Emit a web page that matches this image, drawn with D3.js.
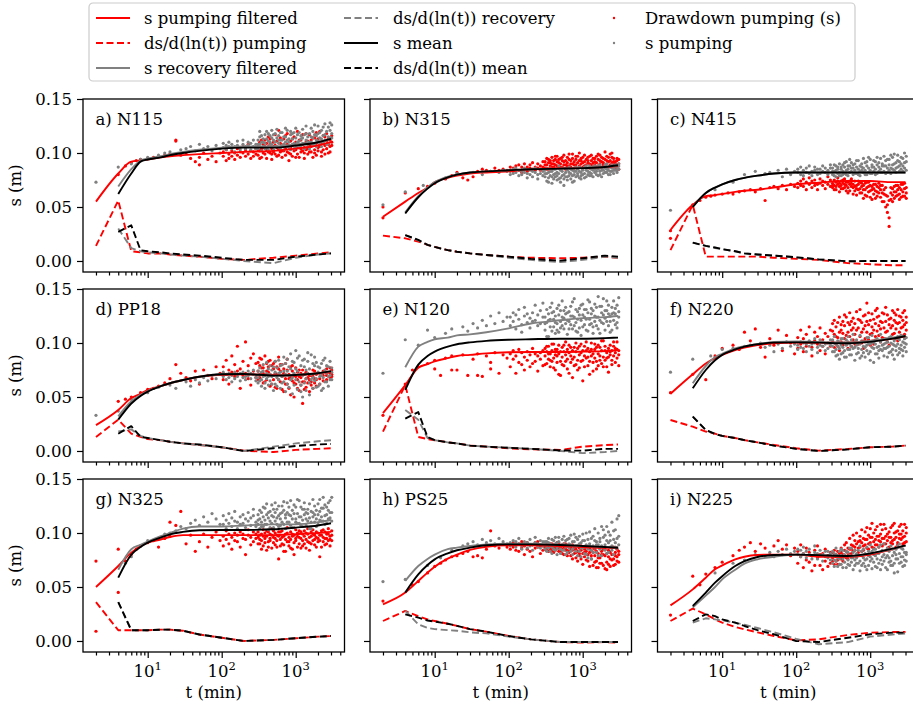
<!DOCTYPE html>
<html><head><meta charset="utf-8">
<script src="https://cdn.jsdelivr.net/npm/d3@7"></script>
<style>body{margin:0;background:#fff}svg{display:block}</style>
</head><body><svg id="c" width="913" height="707"></svg>
<script>
const N = null;
// times (min) of the filtered / derivative lines
const tLine = [2,4,6,8,10,15,20,30,50,100,200,500,1000,2000,3000];
// times (min) of the scatter samples (an entry may hold several readings)
const tPts = [2,3,4,5,6,7,8,10,12,14,17,20,24,28,33,38,44,50,57,65,74,84,95,
 105,115,125,137,150,163,178,194,210,228,247,268,290,
 310,327,345,364,384,405,427,450,475,501,528,557,588,620,654,690,728,768,810,854,901,950,1002,1057,1115,1176,1240,1308,1380,1456,1535,1619,1708,1801,1900,2004,2114,2230,2352,2481,2617,2760,2911,3070];
const panelNames = ["a) N115","b) N315","c) N415","d) PP18","e) N120","f) N220","g) N325","h) PS25","i) N225"];
const yTicks = [0, 0.05, 0.10, 0.15];
const xMajor = [10, 100, 1000];
const xMinor = [2,3,4,5,6,7,8,9,20,30,40,50,60,70,80,90,200,300,400,500,600,700,800,900,2000,3000,4000];
const legendLabels = ["s pumping filtered","ds/d(ln(t)) pumping","s recovery filtered","ds/d(ln(t)) recovery","s mean","ds/d(ln(t)) mean","Drawdown pumping (s)","s pumping"];

// ---- a) N115
const sPumpA=[.055,.081,.092,.093,.094,.096,.097,.098,.099,.100,.101,.102,.104,.107,.110];
const dPumpA=[.014,.056,.009,.008,.007,.007,.006,.005,.004,.002,.001,.003,.005,.007,.008];
const sRecA=[N,.069,.085,.093,.095,.097,.099,.101,.103,.105,.106,.106,.108,.110,.113];
const dRecA=[N,.030,.012,.009,.008,.007,.006,.005,.004,.002,.000,-.002,.003,.006,.007];
const sMeanA=[N,.062,.081,.092,.094,.096,.098,.100,.102,.104,.105,.105,.107,.110,.113];
const dMeanA=[N,.027,.033,.010,.009,.008,.007,.006,.005,.003,.001,.001,.004,.006,.007];
const ptsPumpA=[N,N,.080,.088,.091,.093,.094,.095,.096,.097,.098,.099,[.112,.111],.098,.100,.095,.092,[.089,.096],.100,.094,.097,.092,.100,
[.097,.101],[.093,.103],[.099,.095],[.102,.097],[.094,.100],[.104,.098],[.096,.101],[.100,.106],[.097,.103],[.108,.099],[.095,.102],[.101,.097],[.104,.099],
[.098,.106,.103],[.102,.110,.095],[.096,.104,.112],[.108,.100,.105],[.112,.099,.106],[.103,.095,.109],[.106,.115,.101],[.100,.108,.113],[.094,.104,.099],[.110,.101,.106],
[.099,.117,.107],[.105,.097,.111],[.121,.103,.098],[.101,.109,.114],[.096,.106,.102],[.113,.102,.108],[.104,.098,.116],[.108,.118,.101],[.100,.093,.106],[.111,.105,.099],
[.097,.107,.113],[.115,.102,.108],[.103,.110,.096],[.099,.120,.106],[.106,.096,.112],[.112,.101,.104],[.102,.108,.117],[.095,.105,.100],[.110,.118,.103],[.104,.099,.111],
[.117,.107,.101],[.101,.112,.106],[.108,.096,.114],[.103,.114,.100],[.098,.109,.119],[.113,.105,.102],[.106,.120,.110],[.101,.110,.097],[.109,.103,.116],[.115,.099,.107],
[.104,.111,.118],[.100,.108,.113],[.112,.106,.101],[.107,.116,.110]];
const ptsRecA=[.073,N,.087,N,.090,N,.094,.096,N,.098,.100,.101,N,.103,.104,.106,.102,.108,.104,.106,.102,.107,.104,
[.105,.109],[.103,.107],[.106,.110],[.104,.108],[.101,.106],[.107,.111],[.105,.103],[.108,.112],[.104,.106],[.110,.107],[.103,.109],[.106,.112],[.108,.104],
[.104,.112,.108],[.108,.115,.120],[.102,.110,.116],[.113,.106,.110],[.109,.117,.104],[.105,.120,.113],[.111,.103,.118],[.107,.116,.110],[.114,.108,.121],[.103,.112,.117],
[.110,.118,.106],[.106,.114,.122],[.116,.109,.112],[.104,.112,.119],[.112,.119,.107],[.108,.103,.115],[.115,.110,.123],[.106,.121,.112],[.110,.113,.105],[.103,.117,.120],
[.113,.108,.118],[.109,.119,.104],[.105,.114,.123],[.117,.110,.107],[.111,.106,.119],[.107,.116,.113],[.114,.122,.109],[.109,.104,.117],[.112,.118,.125],[.106,.115,.110],
[.118,.110,.104],[.110,.123,.115],[.114,.107,.120],[.108,.117,.126],[.116,.112,.106],[.111,.125,.118],[.119,.108,.114],[.113,.121,.106],[.110,.116,.124],[.117,.127,.112],
[.112,.120,.108],[.115,.109,.124],[.121,.128,.114],[.114,.118,.126]];

// ---- b) N315
const sPumpB=[.041,.055,.063,.068,.073,.077,.079,.081,.082,.083,.085,.086,.086,.087,.088];
const dPumpB=[.0235,.021,.018,.015,.013,.010,.0086,.007,.0056,.004,.003,.0025,.003,.004,.003];
const sRecB=[N,.045,.060,.068,.073,.078,.080,.082,.083,.084,.085,.0855,.086,.087,.0886];
const dRecB=[N,.024,.019,.015,.013,.010,.0086,.007,.0055,.003,.001,-.001,.001,.004,.003];
const sMeanB=[N,.044,.059,.067,.072,.0775,.080,.082,.083,.084,.085,.0855,.086,.087,.0886];
const dMeanB=[N,.024,.0195,.015,.013,.010,.0086,.007,.0056,.004,.002,.0003,.0025,.005,.004];
const ptsPumpB=[[.050,.040],N,.063,N,.067,N,.069,.072,N,.076,.079,.082,.077,.075,.078,.083,.085,.084,.083,.086,.084,.085,.084,
[.084,.087],[.086,.083],[.088,.085],[.084,.089],[.087,.082],[.085,.090],[.083,.087],[.089,.086],[.085,.091],[.087,.084],[.090,.086],[.084,.088],[.092,.087],
[.086,.092,.089],[.089,.095,.085],[.085,.091,.094],[.093,.088,.091],[.090,.096,.087],[.087,.093,.090],[.094,.089,.097],[.088,.097,.092],[.091,.086,.094],[.095,.090,.087],
[.087,.093,.096],[.092,.098,.089],[.089,.085,.093],[.096,.091,.088],[.088,.094,.099],[.093,.087,.090],[.090,.099,.095],[.086,.092,.089],[.094,.089,.097],[.091,.097,.086],
[.088,.093,.100],[.095,.090,.093],[.087,.096,.091],[.092,.088,.098],[.089,.094,.086],[.096,.091,.093],[.090,.086,.097],[.093,.098,.089],[.087,.091,.095],[.095,.089,.092],
[.091,.097,.087],[.088,.094,.099],[.098,.090,.093],[.092,.087,.096],[.089,.095,.091],[.094,.101,.088],[.090,.093,.097],[.087,.096,.092],[.093,.089,.099],[.096,.100,.091],
[.089,.092,.095],[.092,.086,.090],[.088,.095,.093],[.085,.090,.094]];
const ptsRecB=[.052,N,.064,N,N,.070,N,N,N,.077,N,.081,N,N,.082,N,.080,N,.083,N,.082,.084,.083,
[.083,.080],[.085,.081],[.082,.086],[.079,.084],[.083,.080],[.086,.082],[.081,.077],[.084,.080],[.078,.083],[.082,.086],[.080,.076],[.085,.081],[.079,.083],
[.078,.084,.081],[.074,.081,.086],[.082,.077,.073],[.079,.086,.083],[.072,.083,.078],[.080,.076,.085],[.085,.078,.081],[.075,.082,.079],[.081,.088,.076],[.077,.073,.084],
[.083,.079,.086],[.070,.080,.076],[.086,.082,.078],[.078,.075,.084],[.082,.087,.079],[.076,.081,.085],[.084,.079,.073],[.080,.074,.083],[.087,.083,.078],[.079,.085,.081],
[.083,.077,.087],[.076,.082,.079],[.085,.080,.084],[.081,.087,.077],[.078,.084,.088],[.086,.080,.083],[.082,.088,.079],[.079,.085,.081],[.084,.078,.087],[.088,.082,.085],
[.080,.086,.083],[.085,.079,.088],[.083,.089,.080],[.078,.084,.086],[.087,.081,.084],[.082,.086,.089],[.085,.090,.082],[.080,.084,.087],[.087,.083,.080],[.083,.089,.086],
[.086,.081,.084],[.089,.084,.087],[.084,.087,.082],[.088,.085,.090]];

// ---- c) N415
const sPumpC=[.0287,.052,.060,.061,.062,.064,.065,.066,.068,.071,.0725,.074,.074,.073,.073];
const dPumpC=[.010,.052,.004,.004,.004,.004,.004,.004,.003,.002,.001,-.002,-.003,-.004,-.004];
const sRecC=[N,.050,.063,.068,.071,.075,.077,.079,.081,.082,.082,.082,.082,.082,.082];
const dRecC=[N,.017,.014,.012,.011,.009,.007,.006,.005,.0034,.0015,-.0003,0,0,0];
const sMeanC=[N,.050,.063,.068,.071,.075,.077,.079,.081,.082,.082,.082,.082,.082,.082];
const dMeanC=[N,.017,.014,.0125,.011,.009,.007,.006,.005,.0034,.0015,-.0003,0,0,0];
const ptsPumpC=[[.028,.021],N,.052,.056,.059,.060,.061,.062,.063,.062,.064,.065,.066,.064,.067,.056,.068,.069,.067,.070,.066,.071,.069,
[.072,.068],[.074,.070],[.069,.076],[.073,.066],[.077,.071],[.068,.074],[.075,.070],[.071,.066],[.076,.072],[.070,.074],[.073,.067],[.078,.071],[.069,.075],
[.072,.068,.070],[.075,.070,.066],[.066,.073,.069],[.071,.077,.074],[.069,.064,.072],[.074,.070,.067],[.067,.072,.075],[.076,.071,.068],[.070,.065,.073],[.073,.068,.063],
[.065,.071,.074],[.072,.076,.069],[.068,.062,.071],[.074,.069,.065],[.061,.070,.067],[.071,.066,.074],[.067,.073,.063],[.063,.069,.072],[.070,.058,.066],[.066,.072,.061],
[.060,.068,.073],[.073,.064,.069],[.065,.070,.059],[.069,.057,.066],[.062,.067,.071],[.071,.065,.058],[.064,.060,.069],[.068,.072,.063],[.059,.066,.070],[.070,.063,.055],
[.066,.055,.062],[.061,.068,.050],[.052,.045,.060],[.040,.032,.056],[.063,.057,.068],[.067,.061,.055],[.058,.069,.064],[.064,.060,.070],[.070,.066,.061],[.062,.068,.057],
[.066,.059,.071],[.071,.064,.060],[.060,.067,.072],[.068,.063,.058]];
const ptsRecC=[.047,N,N,N,N,N,.066,N,N,.073,N,.080,N,.083,N,.081,.082,N,.084,.078,.085,.080,.083,
[.082,.085],[.080,.087],[.084,.079],[.086,.082],[.081,.088],[.083,.079],[.087,.084],[.080,.085],[.085,.081],[.088,.083],[.082,.086],[.084,.080],[.086,.089],
[.080,.086,.083],[.083,.089,.079],[.078,.084,.088],[.087,.081,.085],[.082,.090,.079],[.085,.079,.087],[.089,.083,.080],[.081,.087,.091],[.084,.092,.080],[.079,.085,.088],
[.088,.082,.094],[.083,.091,.086],[.086,.080,.089],[.090,.084,.081],[.081,.087,.093],[.085,.093,.080],[.079,.083,.088],[.087,.090,.084],[.082,.086,.095],[.091,.084,.080],
[.080,.088,.092],[.086,.082,.096],[.084,.094,.081],[.089,.081,.087],[.083,.087,.093],[.092,.085,.080],[.081,.089,.096],[.087,.083,.091],[.085,.095,.082],[.090,.082,.088],
[.083,.088,.097],[.088,.093,.081],[.082,.086,.094],[.094,.089,.084],[.086,.081,.098],[.089,.096,.085],[.084,.090,.099],[.091,.086,.082],[.087,.098,.093],[.083,.092,.088],
[.090,.085,.096],[.095,.088,.083],[.086,.100,.091],[.092,.084,.097]];

// ---- d) PP18
const sPumpD=[.024,.038,.049,.053,.0565,.060,.0627,.0657,.0688,.0704,.071,.0704,.070,.072,.073];
const dPumpD=[.013,.029,.016,.013,.011,.010,.0086,.007,.0056,.0034,.0003,-.001,.001,.002,.0025];
const sRecD=[N,.032,.046,.052,.0555,.060,.0627,.0657,.0688,.071,.0713,.0698,.0704,.072,.074];
const dRecD=[N,.018,.020,.014,.012,.010,.0086,.007,.0056,.0035,.000,.004,.007,.009,.010];
const sMeanD=[N,.029,.044,.051,.055,.060,.0627,.0657,.0688,.071,.0713,.0698,.0704,.072,.074];
const dMeanD=[N,.016,.023,.013,.012,.010,.0086,.007,.006,.0035,.000,.0025,.0046,.006,.0065];
const ptsPumpD=[N,N,.046,.048,.050,N,.054,.057,.058,.060,.063,.067,.080,.072,.068,.065,.074,.062,.075,.070,.067,.078,.072,
[.078,.066],[.084,.071],[.062,.075],[.088,.073],[.069,.080],[.097,.074],[.076,.058],[.083,.070],[.101,.072],[.067,.079],[.086,.061],[.074,.090],[.081,.068],
[.074,.082,.066],[.068,.079,.086],[.085,.071,.077],[.077,.063,.072],[.070,.088,.064],[.081,.066,.074],[.073,.078,.083],[.060,.084,.071],[.079,.070,.062],[.066,.076,.081],
[.083,.072,.059],[.071,.058,.078],[.076,.087,.066],[.064,.074,.080],[.080,.069,.057],[.072,.055,.076],[.067,.081,.062],[.075,.062,.085],[.058,.071,.067],[.078,.068,.052],
[.065,.074,.079],[.070,.050,.063],[.062,.077,.069],[.073,.066,.058],[.056,.069,.075],[.068,.061,.072],[.075,.044,.064],[.064,.071,.057],[.059,.067,.073],[.072,.063,.068],
[.066,.055,.070],[.061,.070,.064],[.069,.058,.075],[.063,.074,.067],[.071,.060,.066],N,[.067,.072,.062],N,[.074,.065,.070],N,
[.070,.076,.066],N,[.072,.068,.077],[.075,.071,.069]];
const ptsRecD=[.033,N,.037,N,.048,N,N,.054,N,.059,N,.061,.058,N,.064,.060,.066,.063,.068,.065,.070,.067,.071,
[.069,.073],[.066,.071],[.072,.068],[.070,.064],[.067,.073],[.071,.069],[.065,.072],[.073,.068],[.069,.066],[.074,.070],[.067,.072],[.071,.075],[.068,.065],
[.068,.074,.063],[.071,.065,.077],[.066,.073,.060],[.074,.069,.080],[.063,.070,.058],[.072,.067,.082],[.069,.076,.061],[.065,.071,.079],[.075,.062,.069],[.070,.078,.056],
[.062,.073,.083],[.077,.068,.060],[.066,.084,.072],[.073,.058,.079],[.080,.069,.063],[.064,.087,.074],[.071,.055,.081],[.085,.074,.062],[.059,.078,.070],[.076,.090,.066],
[.053,.068,.083],[.082,.072,.061],[.066,.093,.076],[.074,.057,.086],[.088,.064,.071],[.061,.079,.055],[.070,.050,.084],[.078,.085,.063],[.056,.067,.075],[.083,.072,.091],
[.063,.076,.052],[.071,.089,.066],[.058,.068,.081],[.079,.065,.087],[.067,.082,.059],[.073,.060,.078],[.062,.077,.069],[.081,.070,.056],[.068,.058,.084],[.075,.086,.064],
[.064,.072,.079],[.078,.069,.060],[.070,.083,.066],[.073,.066,.077]];

// ---- e) N120
const sPumpE=[.035,.061,.077,.0805,.083,.086,.088,.089,.0904,.0914,.0917,.0917,.092,.0925,.0935];
const dPumpE=[.018,.061,.013,.011,.010,.008,.007,.005,.004,.0025,.0015,.001,.004,.0055,.006];
const sRecE=[N,.0775,.0966,.101,.1034,.105,.107,.108,.110,.1136,.118,.121,.123,.124,.125];
const dRecE=[N,.038,.029,.012,.010,.008,.007,.005,.004,.003,.002,.000,-.002,-.001,.000];
const sMeanE=[N,.0565,.080,.088,.092,.0966,.0988,.1006,.102,.103,.1035,.104,.104,.1045,.105];
const dMeanE=[N,.030,.036,.013,.010,.008,.007,.005,.004,.003,.002,.0005,.0003,.002,.002];
const ptsPumpE=[.033,N,.062,.075,.078,N,.081,[.084,.076],.070,.086,[.088,.075],.075,.089,.070,.085,[.090,.070],.069,.088,[.082,.076],.091,.072,.089,.086,
[.090,.078],[.085,.093],[.072,.088],[.094,.082],[.080,.091],[.087,.075],[.092,.084],[.078,.089],[.095,.081],[.083,.090],[.088,.074],[.091,.085],[.079,.093],
[.088,.095,.080],[.081,.092,.097],[.097,.085,.090],[.078,.090,.084],[.093,.083,.099],[.086,.099,.077],[.075,.089,.094],[.094,.082,.088],[.090,.098,.071],[.083,.070,.092],
[.096,.087,.080],[.079,.092,.098],[.089,.101,.083],[.085,.076,.094],[.098,.091,.072],[.082,.088,.096],[.093,.068,.085],[.087,.096,.079],[.080,.092,.100],[.095,.084,.075],
[.077,.089,.097],[.091,.099,.083],[.084,.065,.093],[.097,.088,.078],[.086,.093,.101],[.079,.095,.087],[.092,.083,.071],[.088,.100,.094],[.074,.090,.082],[.094,.086,.099],
[.083,.096,.076],[.090,.079,.098],[.096,.088,.084],[.081,.093,.102],[.087,.102,.078],[.093,.084,.097],[.078,.091,.086],[.095,.087,.073],[.089,.098,.092],[.084,.093,.080],
[.097,.088,.101],[.091,.095,.082],[.086,.101,.094],[.093,.089,.079]];
const ptsRecE=[.072,N,.103,N,.098,N,.112,.105,N,.109,.113,N,.115,.111,.118,.114,.121,.116,.125,.118,.128,.120,.124,
[.116,.124],[.120,.128],[.113,.126],[.122,.131],[.117,.110],[.125,.133],[.119,.127],[.114,.123],[.128,.120],[.121,.135],[.126,.116],[.118,.130],[.124,.137],
[.112,.124,.118],[.119,.131,.106],[.106,.127,.121],[.122,.115,.133],[.128,.137,.111],[.115,.122,.129],[.125,.109,.119],[.118,.132,.112],[.110,.126,.135],[.130,.120,.114],
[.116,.139,.124],[.123,.113,.130],[.127,.133,.118],[.108,.121,.128],[.120,.129,.113],[.134,.117,.125],[.113,.125,.138],[.124,.141,.116],[.119,.111,.131],[.129,.122,.110],
[.114,.132,.126],[.121,.107,.135],[.126,.136,.115],[.117,.124,.131],[.131,.112,.122],[.111,.128,.140],[.122,.138,.117],[.127,.118,.132],[.115,.130,.109],[.120,.125,.136],
[.133,.116,.124],[.124,.143,.113],[.109,.121,.134],[.128,.134,.119],[.118,.126,.141],[.123,.112,.130],[.130,.139,.120],[.116,.127,.135],[.125,.120,.110],[.112,.133,.127],
[.121,.128,.139],[.127,.117,.132],[.119,.135,.114],[.124,.129,.142]];

// ---- f) N220
const sPumpF=[.053,.071,.081,.086,.089,.0935,.0957,.098,.0997,.1003,.1003,.1003,.102,.104,.1065];
const dPumpF=[.0287,.0225,.018,.016,.014,.012,.010,.008,.0056,.0025,.0003,.0019,.0034,.004,.005];
const sRecF=[N,.0627,.0787,.087,.090,.095,.097,.099,.101,.1015,.101,.1005,.102,.105,.107];
const dRecF=[N,.032,.0194,.0157,.014,.012,.010,.008,.005,.002,.000,.0015,.0035,.004,.005];
const sMeanF=[N,.058,.075,.084,.089,.094,.0966,.0988,.1003,.1006,.1003,.0997,.101,.104,.1065];
const dMeanF=[N,.0318,.0194,.0157,.014,.012,.010,.008,.005,.002,.000,.0015,.0035,.004,.005];
const ptsPumpF=[.054,N,.071,N,.066,N,.088,.095,N,.098,.094,.110,.102,.113,.096,.087,.104,.098,.112,.093,.107,.100,.090,
[.105,.095],[.112,.099],[.092,.104],[.108,.097],[.101,.115],[.096,.088],[.110,.102],[.099,.106],[.114,.093],[.103,.097],[.090,.109],[.106,.100],[.097,.112],
[.102,.111,.118],[.096,.108,.121],[.115,.099,.106],[.105,.119,.097],[.093,.110,.124],[.112,.101,.117],[.120,.098,.109],[.104,.116,.126],[.099,.124,.107],[.110,.095,.119],
[.117,.106,.128],[.097,.112,.120],[.123,.103,.114],[.108,.118,.099],[.101,.129,.112],[.114,.099,.122],[.106,.121,.131],[.119,.110,.100],[.095,.113,.125],[.126,.104,.116],
[.110,.137,.120],[.103,.117,.128],[.121,.108,.098],[.115,.127,.109],[.099,.112,.122],[.118,.106,.130],[.124,.132,.111],[.107,.116,.125],[.113,.101,.120],[.128,.119,.105],
[.104,.114,.127],[.120,.110,.133],[.111,.126,.101],[.098,.117,.122],[.123,.105,.114],[.116,.130,.108],[.109,.121,.128],[.126,.113,.119],[.102,.118,.131],[.119,.125,.110],
[.114,.107,.124],[.121,.128,.115],[.108,.117,.130],[.124,.112,.119]];
const ptsRecF=[.073,N,.085,N,N,.088,N,.094,N,.095,N,.097,.098,N,.100,.096,.098,.092,.099,.095,.101,.097,.099,
[.098,.094],[.101,.096],[.095,.100],[.099,.092],[.102,.097],[.094,.099],[.100,.104],[.096,.091],[.103,.098],[.097,.101],[.093,.099],[.100,.095],[.098,.103],
[.097,.103,.092],[.092,.100,.106],[.099,.094,.088],[.102,.089,.097],[.095,.101,.085],[.090,.098,.104],[.104,.096,.091],[.093,.100,.087],[.098,.087,.103],[.101,.106,.094],
[.094,.099,.089],[.089,.103,.097],[.100,.095,.108],[.096,.084,.101],[.103,.098,.090],[.091,.100,.095],[.099,.107,.086],[.094,.088,.102],[.102,.097,.091],[.087,.101,.096],
[.098,.093,.105],[.105,.090,.099],[.092,.099,.084],[.100,.096,.107],[.095,.082,.101],[.103,.099,.090],[.090,.104,.096],[.097,.093,.086],[.101,.108,.094],[.093,.098,.103],
[.099,.088,.095],[.104,.095,.100],[.096,.101,.087],[.091,.097,.105],[.100,.106,.092],[.094,.089,.099],[.102,.098,.085],[.097,.104,.093],[.089,.099,.106],[.103,.095,.091],
[.098,.107,.094],[.093,.101,.088],[.100,.096,.104],[.105,.099,.092]];

// ---- g) N325
const sPumpG=[.050,.0694,.0818,.088,.091,.094,.0963,.098,.098,.098,.098,.098,.099,.100,.101];
const dPumpG=[.036,.010,.010,.010,.010,.0105,.0105,.0095,.006,.003,.000,.001,.0025,.004,.0046];
const sRecG=[N,.066,.085,.089,.092,.097,.100,.104,.106,.106,.107,.108,.108,.110,.112];
const dRecG=[N,.036,.010,.010,.010,.0105,.0105,.0095,.006,.003,.000,.001,.0025,.004,.0046];
const sMeanG=[N,.0586,.080,.087,.091,.0957,.0988,.101,.1025,.1028,.1028,.1034,.105,.107,.109];
const dMeanG=[N,.036,.010,.010,.010,.0105,.0105,.0095,.006,.003,.000,.001,.0025,.004,.0046];
const ptsPumpG=[[.074,.009],N,[.085,.045],.074,.080,.085,.088,.091,.093,.087,.095,[.097,.110],.107,.120,.090,.098,.083,.092,.099,.087,.096,.101,.093,
[.097,.088],[.102,.094],[.090,.099],[.096,.085],[.100,.093],[.092,.098],[.087,.101],[.099,.095],[.094,.080],[.098,.103],[.089,.096],[.101,.092],[.095,.099],
[.096,.101,.090],[.090,.098,.094],[.099,.093,.085],[.103,.088,.097],[.095,.100,.091],[.084,.097,.102],[.101,.092,.087],[.093,.099,.095],[.098,.086,.104],[.091,.102,.096],
[.100,.095,.089],[.087,.098,.093],[.097,.076,.101],[.094,.101,.088],[.102,.090,.096],[.089,.097,.083],[.099,.083,.094],[.092,.100,.105],[.096,.088,.092],[.101,.094,.086],
[.085,.097,.099],[.098,.091,.080],[.093,.103,.095],[.100,.087,.097],[.090,.096,.102],[.095,.101,.086],[.088,.093,.099],[.102,.097,.090],[.094,.086,.100],[.099,.104,.092],
[.091,.096,.084],[.097,.090,.101],[.103,.099,.093],[.089,.094,.098],[.096,.101,.087],[.100,.092,.095],[.093,.098,.078],[.098,.087,.102],[.092,.103,.096],[.101,.095,.089],
[.095,.090,.099],[.099,.104,.093],[.094,.097,.088],[.102,.093,.098]];
const ptsRecG=[N,N,N,.072,.078,N,.088,.093,N,.095,.099,.100,.102,.106,.104,.109,.112,.107,.115,.110,.118,.113,.108,
[.108,.116],[.112,.104],[.118,.109],[.106,.114],[.111,.120],[.104,.110],[.115,.108],[.109,.117],[.113,.105],[.119,.111],[.107,.114],[.116,.122],[.110,.106],
[.108,.117,.112],[.113,.104,.121],[.119,.110,.106],[.106,.115,.124],[.112,.123,.108],[.117,.108,.127],[.103,.114,.119],[.120,.111,.105],[.109,.126,.116],[.115,.105,.122],
[.111,.119,.128],[.122,.108,.114],[.106,.116,.125],[.118,.113,.107],[.125,.110,.119],[.108,.121,.129],[.114,.104,.117],[.119,.128,.110],[.110,.117,.124],[.116,.107,.130],
[.121,.113,.105],[.105,.118,.126],[.113,.124,.110],[.118,.109,.131],[.109,.130,.115],[.124,.115,.107],[.112,.106,.122],[.117,.122,.128],[.107,.113,.119],[.122,.118,.111],
[.114,.127,.104],[.110,.104,.120],[.119,.115,.131],[.125,.110,.117],[.113,.121,.106],[.108,.117,.127],[.120,.131,.112],[.115,.111,.123],[.111,.123,.133],[.126,.116,.108],
[.117,.109,.124],[.121,.128,.113],[.114,.119,.130],[.119,.133,.111]];

// ---- h) PS25
const sPumpH=[.034,.0448,.0556,.0633,.0688,.0762,.080,.0843,.0873,.0886,.0886,.088,.087,.0864,.0864];
const dPumpH=[.0185,.0278,.023,.020,.0185,.016,.014,.011,.0086,.0046,.0015,-.001,-.0015,-.001,-.0015];
const sRecH=[N,.0556,.0694,.076,.080,.085,.0864,.088,.0895,.090,.090,.089,.088,.087,.0865];
const dRecH=[N,.028,.0154,.012,.011,.010,.0095,.008,.007,.004,.0015,-.001,-.001,-.001,-.001];
const sMeanH=[N,.0448,.0617,.0704,.0756,.0812,.084,.0864,.0886,.0895,.0895,.0889,.088,.087,.0864];
const dMeanH=[N,.0247,.0216,.019,.018,.016,.014,.011,.0086,.0046,.0015,-.001,-.001,-.001,-.001];
const ptsPumpH=[.037,N,N,.052,.055,N,.063,.069,.072,.075,.078,.079,.081,.083,.078,.079,.077,.085,.102,.088,.086,.090,.087,
[.089,.085],[.087,.091],[.084,.089],[.090,.083],[.086,.092],[.088,.080],[.091,.085],[.083,.089],[.089,.078],[.086,.091],[.092,.087],[.081,.088],[.088,.084],
[.088,.085,.087],[.086,.090,.084],[.089,.083,.087],[.085,.088,.090],[.090,.086,.083],[.087,.082,.089],[.084,.089,.086],[.088,.086,.091],[.086,.091,.083],[.083,.088,.086],
[.089,.085,.081],[.087,.080,.090],[.085,.090,.084],[.088,.084,.079],[.082,.087,.089],[.086,.079,.084],[.089,.084,.076],[.081,.087,.085],[.085,.077,.082],[.088,.083,.074],
[.079,.086,.081],[.084,.076,.088],[.087,.081,.071],[.078,.085,.082],[.083,.088,.075],[.080,.074,.086],[.086,.082,.069],[.076,.084,.079],[.082,.070,.087],[.085,.079,.073],
[.074,.083,.068],[.081,.068,.077],[.077,.086,.072],[.083,.072,.080],[.070,.080,.085],[.079,.085,.067],[.073,.066,.081],[.084,.078,.071],[.069,.082,.076],[.080,.075,.086],
[.076,.087,.070],[.082,.071,.079],[.078,.085,.074],[.073,.080,.083]];
const ptsRecH=[.055,N,.057,N,N,N,.070,N,.077,N,.084,N,.088,.090,.092,.089,.094,.091,.093,.090,.095,.092,.090,
[.091,.088],[.093,.089],[.087,.092],[.090,.095],[.088,.085],[.092,.089],[.086,.091],[.094,.088],[.089,.084],[.091,.096],[.087,.090],[.093,.086],[.088,.092],
[.089,.085,.092],[.092,.087,.083],[.086,.091,.095],[.090,.083,.088],[.087,.094,.081],[.093,.088,.085],[.084,.090,.096],[.091,.086,.080],[.088,.096,.092],[.085,.081,.089],
[.094,.089,.084],[.090,.084,.097],[.087,.093,.080],[.082,.089,.094],[.095,.086,.090],[.089,.098,.083],[.085,.080,.092],[.092,.087,.099],[.096,.083,.088],[.088,.094,.079],
[.083,.090,.097],[.091,.078,.086],[.099,.086,.093],[.087,.093,.081],[.080,.089,.100],[.094,.085,.077],[.090,.101,.088],[.084,.076,.095],[.097,.088,.082],[.086,.093,.104],
[.092,.082,.089],[.100,.089,.079],[.085,.095,.092],[.079,.088,.106],[.096,.103,.086],[.089,.084,.098],[.093,.106,.081],[.082,.091,.101],[.098,.087,.093],[.088,.110,.084],
[.094,.080,.102],[.103,.091,.087],[.086,.113,.095],[.097,.116,.089]];

// ---- i) N225
const sPumpI=[.033,.0478,.0586,.0664,.070,.0756,.078,.0796,.080,.080,.078,.078,.080,.085,.0886];
const dPumpI=[.0185,.030,.0247,.020,.017,.013,.0108,.008,.0046,.0006,.0015,.0056,.0077,.0083,.0083];
const sRecI=[N,.031,.042,.050,.057,.066,.0716,.0756,.078,.080,.0795,.0787,.081,.085,.088];
const dRecI=[N,.017,.021,.020,.019,.017,.015,.012,.008,.002,-.003,-.001,.004,.006,.007];
const sMeanI=[N,.0324,.0448,.054,.060,.0694,.074,.0778,.0796,.080,.0795,.0787,.081,.0855,.0886];
const dMeanI=[N,.0185,.0247,.023,.020,.017,.0139,.010,.0062,.000,-.001,.003,.0062,.0077,.0077];
const ptsPumpI=[.024,N,.060,.052,.062,N,.068,.073,N,.079,.084,.087,.091,.083,.090,.086,.080,.088,.093,.085,.089,.079,.086,
[.083,.072],[.078,.089],[.068,.081],[.086,.075],[.073,.082],[.065,.079],[.084,.070],[.077,.088],[.070,.080],[.081,.066],[.074,.085],[.079,.069],[.072,.082],
[.077,.082,.074],[.071,.079,.084],[.080,.074,.078],[.075,.083,.071],[.078,.071,.081],[.082,.076,.086],[.074,.080,.077],[.079,.084,.089],[.083,.077,.091],[.076,.086,.081],
[.085,.080,.095],[.081,.089,.085],[.088,.083,.098],[.084,.093,.087],[.079,.090,.100],[.092,.086,.082],[.087,.097,.093],[.083,.091,.103],[.095,.088,.084],[.089,.101,.094],
[.086,.094,.105],[.098,.090,.085],[.091,.104,.096],[.087,.096,.109],[.100,.092,.086],[.094,.089,.103],[.089,.106,.097],[.097,.093,.087],[.092,.099,.108],[.103,.088,.095],
[.095,.108,.090],[.090,.097,.104],[.099,.093,.086],[.087,.101,.096],[.105,.096,.091],[.093,.090,.107],[.100,.109,.094],[.096,.087,.101],[.091,.102,.089],[.106,.095,.099],
[.094,.099,.108],[.102,.090,.096],[.097,.108,.091],[.092,.100,.105]];
const ptsRecI=[N,N,N,N,N,N,.063,N,N,.072,N,.075,N,.080,N,.079,.082,.078,.083,.080,.085,.081,.083,
[.080,.085],[.084,.078],[.081,.087],[.077,.083],[.085,.080],[.079,.076],[.082,.088],[.076,.081],[.084,.079],[.080,.074],[.078,.083],[.083,.077],[.075,.081],
[.078,.072,.083],[.081,.075,.069],[.074,.080,.086],[.077,.069,.079],[.083,.076,.071],[.071,.079,.085],[.076,.084,.068],[.080,.073,.078],[.068,.078,.083],[.075,.082,.071],
[.079,.070,.086],[.073,.086,.077],[.082,.077,.066],[.070,.075,.084],[.077,.081,.072],[.084,.072,.079],[.074,.065,.088],[.079,.083,.070],[.072,.077,.085],[.081,.069,.075],
[.076,.087,.066],[.070,.079,.083],[.078,.074,.089],[.083,.067,.076],[.073,.080,.085],[.079,.085,.069],[.068,.076,.081],[.081,.072,.087],[.075,.089,.066],[.071,.078,.084],
[.080,.074,.090],[.077,.084,.068],[.066,.079,.086],[.083,.073,.077],[.074,.088,.070],[.079,.070,.085],[.072,.082,.063],[.085,.076,.080],[.076,.064,.088],[.081,.090,.072],
[.073,.078,.086],[.078,.085,.069],[.070,.075,.082],[.082,.080,.074]];

const panels = [
 [sPumpA,dPumpA,sRecA,dRecA,sMeanA,dMeanA,ptsPumpA,ptsRecA],
 [sPumpB,dPumpB,sRecB,dRecB,sMeanB,dMeanB,ptsPumpB,ptsRecB],
 [sPumpC,dPumpC,sRecC,dRecC,sMeanC,dMeanC,ptsPumpC,ptsRecC],
 [sPumpD,dPumpD,sRecD,dRecD,sMeanD,dMeanD,ptsPumpD,ptsRecD],
 [sPumpE,dPumpE,sRecE,dRecE,sMeanE,dMeanE,ptsPumpE,ptsRecE],
 [sPumpF,dPumpF,sRecF,dRecF,sMeanF,dMeanF,ptsPumpF,ptsRecF],
 [sPumpG,dPumpG,sRecG,dRecG,sMeanG,dMeanG,ptsPumpG,ptsRecG],
 [sPumpH,dPumpH,sRecH,dRecH,sMeanH,dMeanH,ptsPumpH,ptsRecH],
 [sPumpI,dPumpI,sRecI,dRecI,sMeanI,dMeanI,ptsPumpI,ptsRecI]
].map((a,i)=>({name:panelNames[i],sPump:a[0],dPump:a[1],sRec:a[2],dRec:a[3],sMean:a[4],dMean:a[5],ptsPump:a[6],ptsRec:a[7]}));

// ---------- drawing ----------
const FONT = "'DejaVu Serif', serif", FS = 16.5;
const RED = "#ff0000", GRAY = "#808080", BLK = "#000000";
const DASH = "7,3.5", LW = 1.9, PR = 1.6, PR_LEG = 1.2;
const W = 261.5, H = 173;
const colLeft = [83, 370, 657.5], rowTop = [99, 289, 479];
const x = d3.scaleLog().domain([1.3356, 4565]).range([0, W]);
const y = d3.scaleLinear().domain([-0.0102, 0.15]).range([H, 0]);
const svg = d3.select("#c");
const defs = svg.append("defs");
defs.append("clipPath").attr("id","clip").append("rect").attr("x",0).attr("y",0).attr("width",W).attr("height",H);

const lineSmooth = d3.line().defined(d=>d[1]!=null).x(d=>x(d[0])).y(d=>y(d[1])).curve(d3.curveMonotoneX);
const lineStraight = d3.line().defined(d=>d[1]!=null).x(d=>x(d[0])).y(d=>y(d[1]));
const series = (vals) => tLine.map((t,i)=>[t, vals[i]]);
const flatPts = (arr) => {
  const out = [];
  arr.forEach((v,i)=>{ if(v==null || i>=tPts.length) return; (Array.isArray(v)?v:[v]).forEach(s=>out.push([tPts[i], s])); });
  return out;
};

panels.forEach((p,k)=>{
  const col = k%3, row = Math.floor(k/3);
  const g = svg.append("g").attr("transform",`translate(${colLeft[col]},${rowTop[row]})`);
  const inner = g.append("g").attr("clip-path","url(#clip)");
  inner.append("g").selectAll("circle").data(flatPts(p.ptsPump)).join("circle")
    .attr("cx",d=>x(d[0])).attr("cy",d=>y(d[1])).attr("r",PR).attr("fill",RED);
  inner.append("g").selectAll("circle").data(flatPts(p.ptsRec)).join("circle")
    .attr("cx",d=>x(d[0])).attr("cy",d=>y(d[1])).attr("r",PR).attr("fill",GRAY);
  const L = [[p.sPump,RED,false],[p.dPump,RED,true],[p.sRec,GRAY,false],[p.dRec,GRAY,true],[p.sMean,BLK,false],[p.dMean,BLK,true]];
  L.forEach(([vals,c,dash])=>{
    inner.append("path").attr("d",(dash?lineStraight:lineSmooth)(series(vals)))
      .attr("fill","none").attr("stroke",c).attr("stroke-width",LW)
      .attr("stroke-dasharray",dash?DASH:null).attr("stroke-linejoin","round");
  });
  const yAx = g.append("g").call(d3.axisLeft(y).tickValues(yTicks).tickSize(6).tickPadding(5)
      .tickFormat(col===0?d3.format(".2f"):()=> ""));
  const xAx = g.append("g").attr("transform",`translate(0,${H})`)
      .call(d3.axisBottom(x).tickValues(xMajor).tickSize(6).tickFormat(()=>""));
  const xMin = g.append("g").attr("transform",`translate(0,${H})`)
      .call(d3.axisBottom(x).tickValues(xMinor.filter(v=>x(v)<=W)).tickSize(3.5).tickFormat(()=>""));
  [yAx,xAx,xMin].forEach(a=>{
    a.select(".domain").remove();
    a.selectAll(".tick line").attr("stroke",BLK).attr("stroke-width",1.2);
    a.selectAll("text").attr("font-family",FONT).attr("font-size",FS).attr("fill",BLK);
  });
  if(row===2){
    xMajor.forEach(v=>{
      const t = g.append("text").attr("x",x(v)).attr("y",H+25).attr("text-anchor","middle")
        .attr("font-family",FONT).attr("font-size",FS).attr("fill",BLK);
      t.append("tspan").text("10");
      t.append("tspan").attr("dy",-7).attr("font-size",11.5).text(String(Math.round(Math.log10(v))));
    });
    g.append("text").attr("x",W/2).attr("y",H+46).attr("text-anchor","middle")
      .attr("font-family",FONT).attr("font-size",FS).text("t (min)");
  }
  if(col===0){
    g.append("text").attr("transform",`translate(${21-colLeft[0]},${H/2}) rotate(-90)`)
      .attr("text-anchor","middle").attr("font-family",FONT).attr("font-size",FS).text("s (m)");
  }
  g.append("rect").attr("x",0).attr("y",0).attr("width",W).attr("height",H)
    .attr("fill","none").attr("stroke",BLK).attr("stroke-width",1.3);
  g.append("text").attr("x",12.5).attr("y",26).attr("font-family",FONT).attr("font-size",FS).text(p.name);
});

// ---------- legend ----------
const lg = svg.append("g");
lg.append("rect").attr("x",89).attr("y",3).attr("width",766).attr("height",78).attr("rx",4)
  .attr("fill","#fff").attr("fill-opacity",0.8).attr("stroke","#cccccc").attr("stroke-width",1.2);
const rowsY = [18, 43, 68];
const legItems = [
 {c:0,r:0,type:"line",color:RED,dash:false},
 {c:0,r:1,type:"line",color:RED,dash:true},
 {c:0,r:2,type:"line",color:GRAY,dash:false},
 {c:1,r:0,type:"line",color:GRAY,dash:true},
 {c:1,r:1,type:"line",color:BLK,dash:false},
 {c:1,r:2,type:"line",color:BLK,dash:true},
 {c:2,r:0,type:"dot",color:RED},
 {c:2,r:1,type:"dot",color:GRAY}
];
const handleX = [[96,130],[344,378],[597,631]], textX = [144, 393, 645];
legItems.forEach((it,i)=>{
  const yy = rowsY[it.r], hx = handleX[it.c];
  if(it.type==="line"){
    lg.append("line").attr("x1",hx[0]).attr("x2",hx[1]).attr("y1",yy).attr("y2",yy)
      .attr("stroke",it.color).attr("stroke-width",LW).attr("stroke-dasharray",it.dash?DASH:null);
  } else {
    lg.append("circle").attr("cx",(hx[0]+hx[1])/2).attr("cy",yy).attr("r",PR_LEG).attr("fill",it.color);
  }
  lg.append("text").attr("x",textX[it.c]).attr("y",yy).attr("dy","0.35em")
    .attr("font-family",FONT).attr("font-size",FS).attr("fill",BLK).text(legendLabels[i]);
});
</script></body></html>
